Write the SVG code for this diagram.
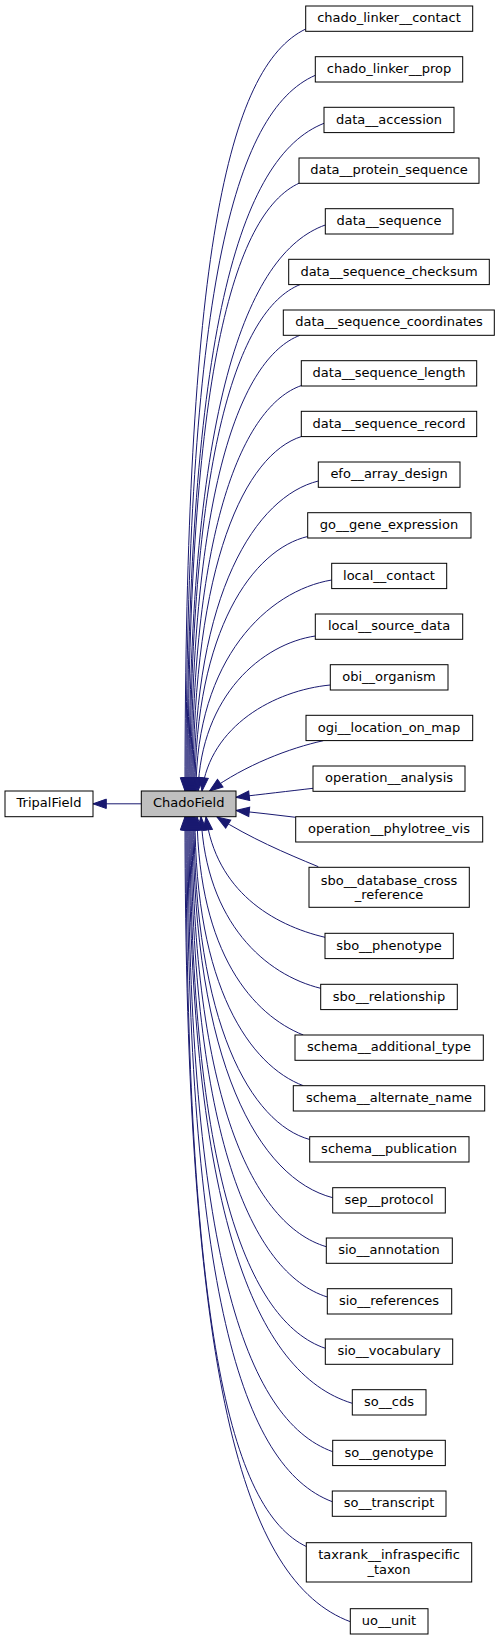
<svg xmlns="http://www.w3.org/2000/svg" width="500" height="1640" viewBox="0 0 500 1640">
<style>
rect{fill:#ffffff;stroke:#000000;stroke-width:1}
#ChadoField rect{fill:#bfbfbf}
text{font-family:"DejaVu Sans","Liberation Sans",sans-serif;font-size:13px;text-anchor:middle;fill:#000000}
#edges path{fill:none;stroke:#191970;stroke-width:1;marker-end:url(#ah)}
</style>
<defs>
<marker id="ah" markerUnits="userSpaceOnUse" markerWidth="16" markerHeight="12" viewBox="-1 -1 16 12" refX="13.3" refY="4.7" orient="auto" overflow="visible">
<path d="M0,0 L13.3,4.7 L0,9.4 Z" fill="#191970" stroke="#191970" stroke-width="1"/>
</marker>
</defs>
<rect x="0" y="0" width="500" height="1640" style="fill:#ffffff;stroke:none"/>
<g id="edges">
<path d="M141.3,803.8 L93,803.8"/>
<path d="M305.7,29 C227.2,67.1 185,257.6 185,791"/>
<path d="M315.3,75.3 C233.1,111.1 186,294.3 186,791"/>
<path d="M324,123.3 C239.1,156.7 187,331.7 187,791"/>
<path d="M299.5,183 C232.6,213.4 188,377.6 188,791"/>
<path d="M325.3,225 C245.4,253.3 189,409.2 189,791"/>
<path d="M300,284.6 C237.7,309.9 190,453.4 190,791"/>
<path d="M300,335.3 C240.1,358.1 191,490.2 191,791"/>
<path d="M301.5,385.5 C243.1,405.8 192,526 192,791"/>
<path d="M301.5,436.5 C245.4,454.2 193,561.8 193,791"/>
<path d="M318.3,481 C255.9,496.5 194,592.4 194,791"/>
<path d="M307.7,536.5 C253.2,549.2 195,629.8 195,791"/>
<path d="M331.7,580 C268,590.6 196,658.5 196,791"/>
<path d="M315.3,636 C262.4,643.8 201,694.9 198,791"/>
<path d="M330.3,685 C274.5,690.3 210,725.9 202,791"/>
<path d="M323.3,740.7 C290,748 245,765 209.5,791"/>
<path d="M313,788.3 C290,791 262,794.3 236,797.3"/>
<path d="M295.7,817.3 C276,815 256,812.5 236,810.5"/>
<path d="M318.3,866.7 C285,853 250,838 217,817"/>
<path d="M325,937.3 C272.7,925 216,891 206,816.7"/>
<path d="M320.7,988.3 C266.1,975 206,923.5 201,816.7"/>
<path d="M303.3,1035 C253.1,1015 199,953.9 197,816.7"/>
<path d="M303.3,1085.7 C250.4,1065.7 195,987.6 195,816.7"/>
<path d="M309.7,1139.5 C251.1,1123.4 194,1024.1 194,816.7"/>
<path d="M332.7,1197.7 C259.3,1178.6 193,1064.4 193,816.7"/>
<path d="M326.3,1246.7 C253.6,1225.2 192,1099 192,816.7"/>
<path d="M327.3,1297 C251.2,1273 191,1135.2 191,816.7"/>
<path d="M325.3,1348.3 C247.5,1321.7 190,1172.9 190,816.7"/>
<path d="M352.3,1403.3 C255.5,1374 189,1213.9 189,816.7"/>
<path d="M332.7,1451.7 C244.6,1419.9 188,1250.8 188,816.7"/>
<path d="M332.3,1501.7 C241.4,1467.4 187,1289.4 187,816.7"/>
<path d="M306.7,1546.7 C229.4,1510.2 186,1324.8 186,816.7"/>
<path d="M350.3,1621.7 C242.9,1581.4 185,1380.2 185,816.7"/>
</g>
<g id="TripalField"><rect x="5" y="791" width="88" height="25.7"/><text x="49" y="807.3">TripalField</text></g>
<g id="ChadoField"><rect x="141.3" y="791" width="94.7" height="25.7"/><text x="188.7" y="807.3">ChadoField</text></g>
<g id="n1"><rect x="305.7" y="6" width="167" height="25.3"/><text x="389" y="22.3">chado_linker__contact</text></g>
<g id="n2"><rect x="315.3" y="56.7" width="147.4" height="25.3"/><text x="389" y="73">chado_linker__prop</text></g>
<g id="n3"><rect x="324" y="107.3" width="130" height="25.3"/><text x="389" y="123.6">data__accession</text></g>
<g id="n4"><rect x="299" y="158" width="180" height="25.3"/><text x="389" y="174.3">data__protein_sequence</text></g>
<g id="n5"><rect x="325.3" y="208.7" width="127.7" height="25.3"/><text x="389" y="225">data__sequence</text></g>
<g id="n6"><rect x="288.7" y="259.3" width="200.6" height="25.3"/><text x="389" y="275.6">data__sequence_checksum</text></g>
<g id="n7"><rect x="283.3" y="310" width="211" height="25.3"/><text x="389" y="326.3">data__sequence_coordinates</text></g>
<g id="n8"><rect x="301.3" y="360.7" width="175.4" height="25.3"/><text x="389" y="377">data__sequence_length</text></g>
<g id="n9"><rect x="301.3" y="411.3" width="175.4" height="25.3"/><text x="389" y="427.6">data__sequence_record</text></g>
<g id="n10"><rect x="318.3" y="462" width="141.7" height="25.3"/><text x="389" y="478.3">efo__array_design</text></g>
<g id="n11"><rect x="307.7" y="512.7" width="163.3" height="25.3"/><text x="389" y="529">go__gene_expression</text></g>
<g id="n12"><rect x="331.7" y="563.3" width="115" height="25.3"/><text x="389" y="579.6">local__contact</text></g>
<g id="n13"><rect x="315.3" y="614" width="147.4" height="25.3"/><text x="389" y="630.3">local__source_data</text></g>
<g id="n14"><rect x="330.3" y="664.7" width="117.7" height="25.3"/><text x="389" y="681">obi__organism</text></g>
<g id="n15"><rect x="306" y="715.3" width="166.7" height="25.3"/><text x="389" y="731.6">ogi__location_on_map</text></g>
<g id="n16"><rect x="313" y="766" width="152" height="25.3"/><text x="389" y="782.3">operation__analysis</text></g>
<g id="n17"><rect x="295.7" y="816.7" width="187" height="25.3"/><text x="389" y="833">operation__phylotree_vis</text></g>
<g id="n18"><rect x="309" y="867.3" width="160.3" height="40"/><text x="389" y="884.5">sbo__database_cross</text><text x="389" y="899">_reference</text></g>
<g id="n19"><rect x="325" y="933.3" width="128.3" height="25.3"/><text x="389" y="949.6">sbo__phenotype</text></g>
<g id="n20"><rect x="320.7" y="984.3" width="136.6" height="25.3"/><text x="389" y="1000.6">sbo__relationship</text></g>
<g id="n21"><rect x="295" y="1035" width="188.3" height="25.3"/><text x="389" y="1051.3">schema__additional_type</text></g>
<g id="n22"><rect x="293.3" y="1085.7" width="191.4" height="25.3"/><text x="389" y="1102">schema__alternate_name</text></g>
<g id="n23"><rect x="309.7" y="1136.7" width="159.3" height="25.3"/><text x="389" y="1153">schema__publication</text></g>
<g id="n24"><rect x="332.7" y="1187.7" width="112.6" height="25.3"/><text x="389" y="1204">sep__protocol</text></g>
<g id="n25"><rect x="326.3" y="1238" width="126" height="25.3"/><text x="389" y="1254.3">sio__annotation</text></g>
<g id="n26"><rect x="327.3" y="1288.7" width="124.4" height="25.3"/><text x="389" y="1305">sio__references</text></g>
<g id="n27"><rect x="325.3" y="1339" width="127.4" height="25.3"/><text x="389" y="1355.3">sio__vocabulary</text></g>
<g id="n28"><rect x="352.3" y="1389.7" width="73.7" height="25.3"/><text x="389" y="1406">so__cds</text></g>
<g id="n29"><rect x="332.7" y="1440.3" width="112.6" height="25.3"/><text x="389" y="1456.6">so__genotype</text></g>
<g id="n30"><rect x="332.3" y="1491" width="113.7" height="25.3"/><text x="389" y="1507.3">so__transcript</text></g>
<g id="n31"><rect x="306.3" y="1542.7" width="165.4" height="39.3"/><text x="389" y="1559.3">taxrank__infraspecific</text><text x="389" y="1574">_taxon</text></g>
<g id="n32"><rect x="350.3" y="1608.7" width="77.7" height="25.3"/><text x="389" y="1625">uo__unit</text></g>
</svg>
